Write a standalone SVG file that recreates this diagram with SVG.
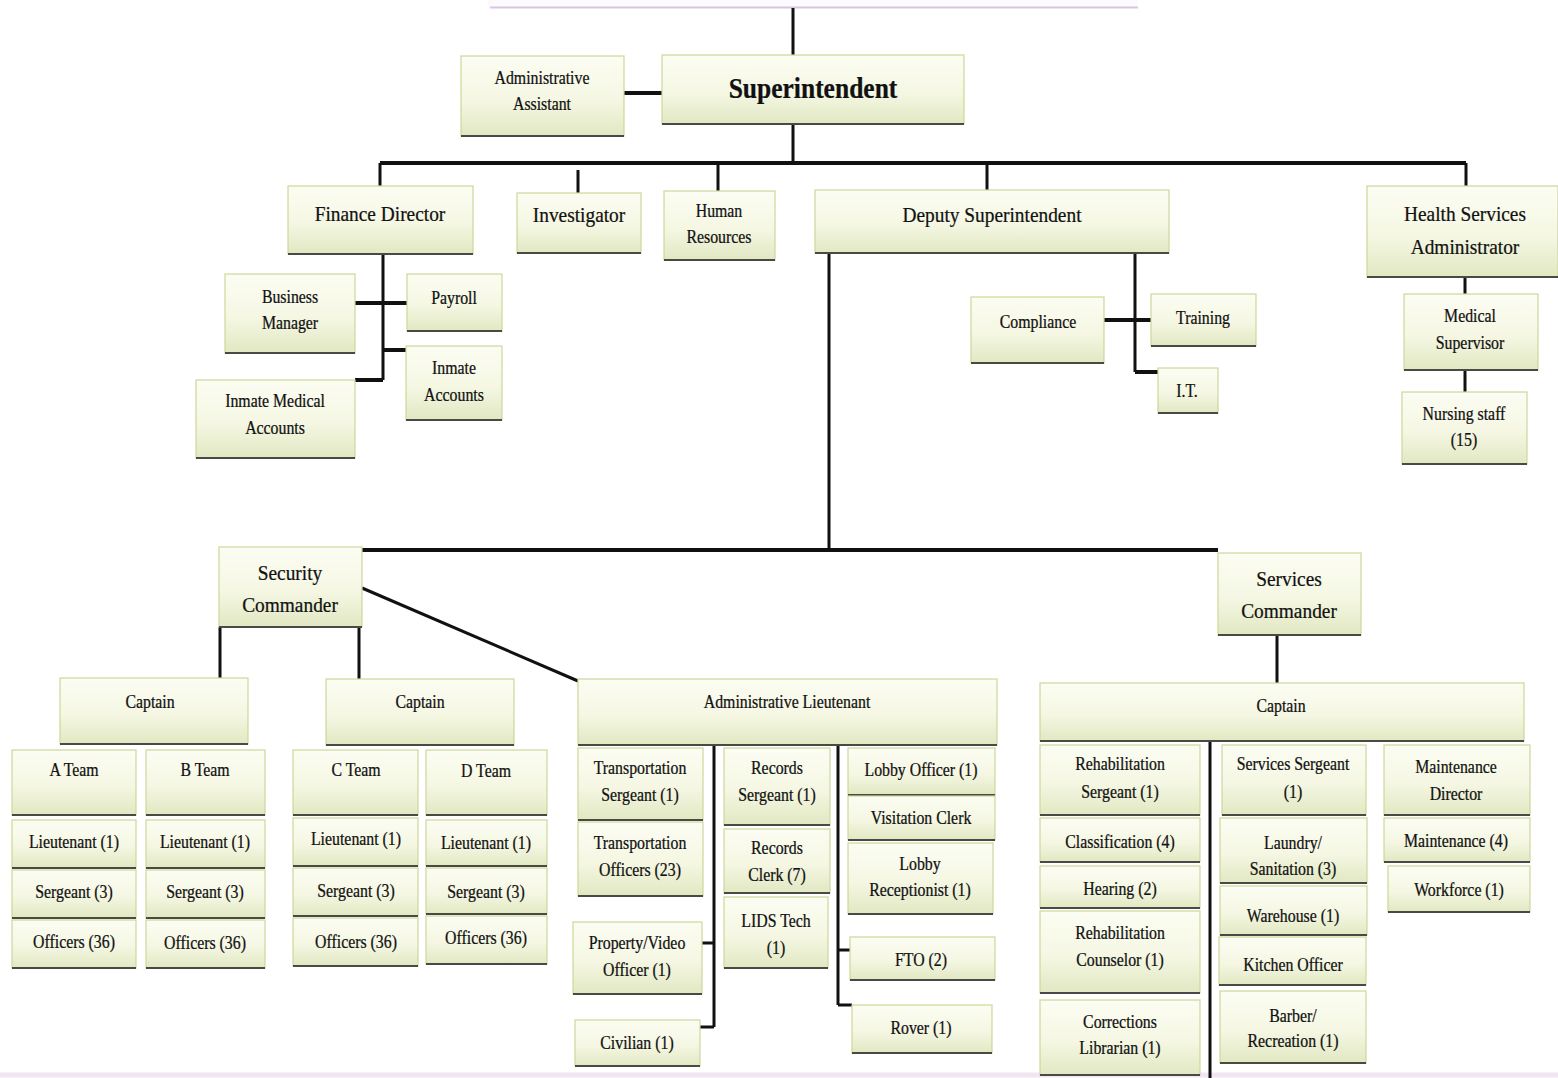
<svg xmlns="http://www.w3.org/2000/svg" width="1558" height="1078" viewBox="0 0 1558 1078">
<defs>
<linearGradient id="fill" x1="0" y1="0" x2="0" y2="1">
<stop offset="0" stop-color="#fcfdf3"/>
<stop offset="0.55" stop-color="#f5f7e3"/>
<stop offset="1" stop-color="#e1e8c2"/>
</linearGradient>
<style>
.node rect{fill:url(#fill);stroke:#cfd699;stroke-width:1.2}
.node path{stroke:#4a4a44;stroke-width:2.2;fill:none}
text{font-family:"Liberation Serif","Times New Roman",serif;font-size:18px;fill:#111;stroke:#111;stroke-width:0.25;text-anchor:middle;transform-box:fill-box;transform-origin:center;transform:scaleX(.88)}
.lg{font-size:22px}
.xl{font-size:29px;font-weight:bold}
#conn path{stroke:#111;stroke-width:3;fill:none}
#conn path.thick{stroke-width:4}
</style>
</defs>
<rect width="1558" height="1078" fill="#ffffff"/>
<g id="top-cut"><rect x="488" y="-10" width="650" height="18" fill="#fcfafd"/><path d="M490 7.5 H1138" stroke="#d6c6e3" stroke-width="2"/></g>
<path d="M0 1075 H1558" stroke="#f1e6f2" stroke-width="5"/>

<g id="conn">
<path d="M793 8 V55"/>
<path class="thick" d="M624 93 H662"/>
<path d="M793 124 V163"/>
<path class="thick" d="M380 163 H1466"/>
<path d="M380 163 V186"/>
<path d="M578 170 V193"/>
<path d="M718 163 V191"/>
<path d="M987 163 V190"/>
<path d="M1466 163 V186"/>
<path d="M383 254 V380"/>
<path class="thick" d="M355 303 H407"/>
<path class="thick" d="M383 350 H406"/>
<path class="thick" d="M355 380 H383"/>
<path d="M1135 253 V372"/>
<path class="thick" d="M1104 320 H1151"/>
<path class="thick" d="M1135 372 H1158"/>
<path d="M1465 277 V294"/>
<path d="M1465 370 V392"/>
<path d="M829 253 V550"/>
<path class="thick" d="M362 550 H1218"/>
<path d="M220 627 V678"/>
<path d="M359 627 V679"/>
<path d="M362 588 L578 681"/>
<path d="M714 745 V1027"/>
<path d="M702 943 H714"/>
<path d="M700 1027 H714"/>
<path d="M838 745 V1005"/>
<path d="M838 950 H850"/>
<path d="M838 1005 H852"/>
<path d="M1277 635 V683"/>
<path d="M1210 741 V1078"/>
</g>

<g id="superintendent" class="node"><rect x="662" y="55" width="302" height="69"/><path d="M662 124 H964"/><text class="xl" x="813" y="98">Superintendent</text></g>
<g id="admin-assistant" class="node"><rect x="461" y="56" width="163" height="80"/><path d="M461 136 H624"/><text x="542" y="84"><tspan x="542" y="84">Administrative</tspan><tspan x="542" y="110">Assistant</tspan></text></g>
<g id="finance-director" class="node"><rect x="288" y="186" width="185" height="68"/><path d="M288 254 H473"/><text class="lg" x="380" y="221">Finance Director</text></g>
<g id="investigator" class="node"><rect x="517" y="193" width="124" height="60"/><path d="M517 253 H641"/><text class="lg" x="579" y="222">Investigator</text></g>
<g id="human-resources" class="node"><rect x="664" y="191" width="111" height="69"/><path d="M664 260 H775"/><text x="719" y="217"><tspan x="719" y="217">Human</tspan><tspan x="719" y="243">Resources</tspan></text></g>
<g id="deputy" class="node"><rect x="815" y="190" width="354" height="63"/><path d="M815 253 H1169"/><text class="lg" x="992" y="222">Deputy Superintendent</text></g>
<g id="health" class="node"><rect x="1367" y="186" width="191" height="91"/><path d="M1367 277 H1558"/><text class="lg" x="1465" y="221"><tspan x="1465" y="221">Health Services</tspan><tspan x="1465" y="254">Administrator</tspan></text></g>
<g id="business-manager" class="node"><rect x="225" y="274" width="130" height="79"/><path d="M225 353 H355"/><text x="290" y="303"><tspan x="290" y="303">Business</tspan><tspan x="290" y="329">Manager</tspan></text></g>
<g id="payroll" class="node"><rect x="407" y="274" width="95" height="57"/><path d="M407 331 H502"/><text x="454" y="304">Payroll</text></g>
<g id="inmate-accounts" class="node"><rect x="406" y="346" width="96" height="74"/><path d="M406 420 H502"/><text x="454" y="374"><tspan x="454" y="374">Inmate</tspan><tspan x="454" y="401">Accounts</tspan></text></g>
<g id="inmate-medical" class="node"><rect x="196" y="380" width="159" height="78"/><path d="M196 458 H355"/><text x="275" y="407"><tspan x="275" y="407">Inmate Medical</tspan><tspan x="275" y="434">Accounts</tspan></text></g>
<g id="compliance" class="node"><rect x="971" y="297" width="133" height="66"/><path d="M971 363 H1104"/><text x="1038" y="328">Compliance</text></g>
<g id="training" class="node"><rect x="1151" y="294" width="105" height="52"/><path d="M1151 346 H1256"/><text x="1203" y="324">Training</text></g>
<g id="it" class="node"><rect x="1158" y="368" width="60" height="45"/><path d="M1158 413 H1218"/><text x="1187" y="397">I.T.</text></g>
<g id="medical-supervisor" class="node"><rect x="1404" y="294" width="134" height="76"/><path d="M1404 370 H1538"/><text x="1470" y="322"><tspan x="1470" y="322">Medical</tspan><tspan x="1470" y="349">Supervisor</tspan></text></g>
<g id="nursing" class="node"><rect x="1402" y="392" width="125" height="72"/><path d="M1402 464 H1527"/><text x="1464" y="420"><tspan x="1464" y="420">Nursing staff</tspan><tspan x="1464" y="446">(15)</tspan></text></g>
<g id="security-commander" class="node"><rect x="219" y="547" width="143" height="80"/><path d="M219 627 H362"/><text class="lg" x="290" y="580"><tspan x="290" y="580">Security</tspan><tspan x="290" y="612">Commander</tspan></text></g>
<g id="services-commander" class="node"><rect x="1218" y="553" width="143" height="82"/><path d="M1218 635 H1361"/><text class="lg" x="1289" y="586"><tspan x="1289" y="586">Services</tspan><tspan x="1289" y="618">Commander</tspan></text></g>
<g id="captain-1" class="node"><rect x="60" y="678" width="188" height="66"/><path d="M60 744 H248"/><text x="150" y="708">Captain</text></g>
<g id="captain-2" class="node"><rect x="326" y="679" width="188" height="66"/><path d="M326 745 H514"/><text x="420" y="708">Captain</text></g>
<g id="admin-lieutenant" class="node"><rect x="578" y="679" width="419" height="66"/><path d="M578 745 H997"/><text x="787" y="708">Administrative Lieutenant</text></g>

<g id="a-team" class="node"><rect x="12" y="750" width="124" height="65"/><path d="M12 815 H136"/><text x="74" y="776">A Team</text></g>
<g id="a-lt" class="node"><rect x="12" y="820" width="124" height="48"/><path d="M12 868 H136"/><text x="74" y="848">Lieutenant (1)</text></g>
<g id="a-sgt" class="node"><rect x="12" y="870" width="124" height="48"/><path d="M12 918 H136"/><text x="74" y="898">Sergeant (3)</text></g>
<g id="a-off" class="node"><rect x="12" y="920" width="124" height="48"/><path d="M12 968 H136"/><text x="74" y="948">Officers (36)</text></g>
<g id="b-team" class="node"><rect x="146" y="750" width="119" height="65"/><path d="M146 815 H265"/><text x="205" y="776">B Team</text></g>
<g id="b-lt" class="node"><rect x="146" y="820" width="119" height="48"/><path d="M146 868 H265"/><text x="205" y="848">Lieutenant (1)</text></g>
<g id="b-sgt" class="node"><rect x="146" y="870" width="119" height="48"/><path d="M146 918 H265"/><text x="205" y="898">Sergeant (3)</text></g>
<g id="b-off" class="node"><rect x="146" y="920" width="119" height="48"/><path d="M146 968 H265"/><text x="205" y="949">Officers (36)</text></g>
<g id="c-team" class="node"><rect x="293" y="750" width="125" height="65"/><path d="M293 815 H418"/><text x="356" y="776">C Team</text></g>
<g id="c-lt" class="node"><rect x="293" y="818" width="125" height="48"/><path d="M293 866 H418"/><text x="356" y="845">Lieutenant (1)</text></g>
<g id="c-sgt" class="node"><rect x="293" y="868" width="125" height="48"/><path d="M293 916 H418"/><text x="356" y="897">Sergeant (3)</text></g>
<g id="c-off" class="node"><rect x="293" y="918" width="125" height="48"/><path d="M293 966 H418"/><text x="356" y="948">Officers (36)</text></g>
<g id="d-team" class="node"><rect x="426" y="750" width="121" height="65"/><path d="M426 815 H547"/><text x="486" y="777">D Team</text></g>
<g id="d-lt" class="node"><rect x="426" y="820" width="121" height="46"/><path d="M426 866 H547"/><text x="486" y="849">Lieutenant (1)</text></g>
<g id="d-sgt" class="node"><rect x="426" y="868" width="121" height="46"/><path d="M426 914 H547"/><text x="486" y="898">Sergeant (3)</text></g>
<g id="d-off" class="node"><rect x="426" y="916" width="121" height="48"/><path d="M426 964 H547"/><text x="486" y="944">Officers (36)</text></g>

<g id="transport-sgt" class="node"><rect x="578" y="748" width="125" height="72"/><path d="M578 820 H703"/><text x="640" y="774"><tspan x="640" y="774">Transportation</tspan><tspan x="640" y="801">Sergeant (1)</tspan></text></g>
<g id="transport-off" class="node"><rect x="578" y="822" width="125" height="74"/><path d="M578 896 H703"/><text x="640" y="849"><tspan x="640" y="849">Transportation</tspan><tspan x="640" y="876">Officers (23)</tspan></text></g>
<g id="property-video" class="node"><rect x="573" y="922" width="129" height="72"/><path d="M573 994 H702"/><text x="637" y="949"><tspan x="637" y="949">Property/Video</tspan><tspan x="637" y="976">Officer (1)</tspan></text></g>
<g id="civilian" class="node"><rect x="575" y="1020" width="125" height="46"/><path d="M575 1066 H700"/><text x="637" y="1049">Civilian (1)</text></g>
<g id="records-sgt" class="node"><rect x="724" y="748" width="106" height="77"/><path d="M724 825 H830"/><text x="777" y="774"><tspan x="777" y="774">Records</tspan><tspan x="777" y="801">Sergeant (1)</tspan></text></g>
<g id="records-clerk" class="node"><rect x="724" y="829" width="106" height="64"/><path d="M724 893 H830"/><text x="777" y="854"><tspan x="777" y="854">Records</tspan><tspan x="777" y="881">Clerk (7)</tspan></text></g>
<g id="lids-tech" class="node"><rect x="724" y="897" width="104" height="71"/><path d="M724 968 H828"/><text x="776" y="927"><tspan x="776" y="927">LIDS Tech</tspan><tspan x="776" y="954">(1)</tspan></text></g>
<g id="lobby-officer" class="node"><rect x="848" y="748" width="147" height="47"/><path d="M848 795 H995"/><text x="921" y="776">Lobby Officer (1)</text></g>
<g id="visitation-clerk" class="node"><rect x="848" y="796" width="147" height="44"/><path d="M848 840 H995"/><text x="921" y="824">Visitation Clerk</text></g>
<g id="lobby-receptionist" class="node"><rect x="848" y="843" width="145" height="71"/><path d="M848 914 H993"/><text x="920" y="870"><tspan x="920" y="870">Lobby</tspan><tspan x="920" y="896">Receptionist (1)</tspan></text></g>
<g id="fto" class="node"><rect x="850" y="937" width="145" height="43"/><path d="M850 980 H995"/><text x="921" y="966">FTO (2)</text></g>
<g id="rover" class="node"><rect x="852" y="1005" width="140" height="48"/><path d="M852 1053 H992"/><text x="921" y="1034">Rover (1)</text></g>

<g id="captain-3" class="node"><rect x="1040" y="683" width="484" height="58"/><path d="M1040 741 H1524"/><text x="1281" y="712">Captain</text></g>
<g id="rehab-sgt" class="node"><rect x="1040" y="745" width="160" height="70"/><path d="M1040 815 H1200"/><text x="1120" y="770"><tspan x="1120" y="770">Rehabilitation</tspan><tspan x="1120" y="798">Sergeant (1)</tspan></text></g>
<g id="classification" class="node"><rect x="1040" y="818" width="160" height="44"/><path d="M1040 862 H1200"/><text x="1120" y="848">Classification (4)</text></g>
<g id="hearing" class="node"><rect x="1040" y="866" width="160" height="42"/><path d="M1040 908 H1200"/><text x="1120" y="895">Hearing (2)</text></g>
<g id="rehab-counselor" class="node"><rect x="1040" y="911" width="160" height="82"/><path d="M1040 993 H1200"/><text x="1120" y="939"><tspan x="1120" y="939">Rehabilitation</tspan><tspan x="1120" y="966">Counselor (1)</tspan></text></g>
<g id="corrections-librarian" class="node"><rect x="1040" y="1000" width="160" height="75"/><path d="M1040 1075 H1200"/><text x="1120" y="1028"><tspan x="1120" y="1028">Corrections</tspan><tspan x="1120" y="1054">Librarian (1)</tspan></text></g>
<g id="services-sgt" class="node"><rect x="1222" y="745" width="144" height="70"/><path d="M1222 815 H1366"/><text x="1293" y="770"><tspan x="1293" y="770">Services Sergeant</tspan><tspan x="1293" y="798">(1)</tspan></text></g>
<g id="laundry" class="node"><rect x="1220" y="818" width="147" height="65"/><path d="M1220 883 H1367"/><text x="1293" y="849"><tspan x="1293" y="849">Laundry/</tspan><tspan x="1293" y="875">Sanitation (3)</tspan></text></g>
<g id="warehouse" class="node"><rect x="1220" y="886" width="147" height="49"/><path d="M1220 935 H1367"/><text x="1293" y="922">Warehouse (1)</text></g>
<g id="kitchen" class="node"><rect x="1219" y="937" width="147" height="48"/><path d="M1219 985 H1366"/><text x="1293" y="971">Kitchen Officer</text></g>
<g id="barber" class="node"><rect x="1220" y="991" width="146" height="72"/><path d="M1220 1063 H1366"/><text x="1293" y="1022"><tspan x="1293" y="1022">Barber/</tspan><tspan x="1293" y="1047">Recreation (1)</tspan></text></g>
<g id="maintenance-director" class="node"><rect x="1384" y="745" width="146" height="70"/><path d="M1384 815 H1530"/><text x="1456" y="773"><tspan x="1456" y="773">Maintenance</tspan><tspan x="1456" y="800">Director</tspan></text></g>
<g id="maintenance" class="node"><rect x="1384" y="818" width="146" height="44"/><path d="M1384 862 H1530"/><text x="1456" y="847">Maintenance (4)</text></g>
<g id="workforce" class="node"><rect x="1388" y="866" width="142" height="46"/><path d="M1388 912 H1530"/><text x="1459" y="896">Workforce (1)</text></g>
</svg>
